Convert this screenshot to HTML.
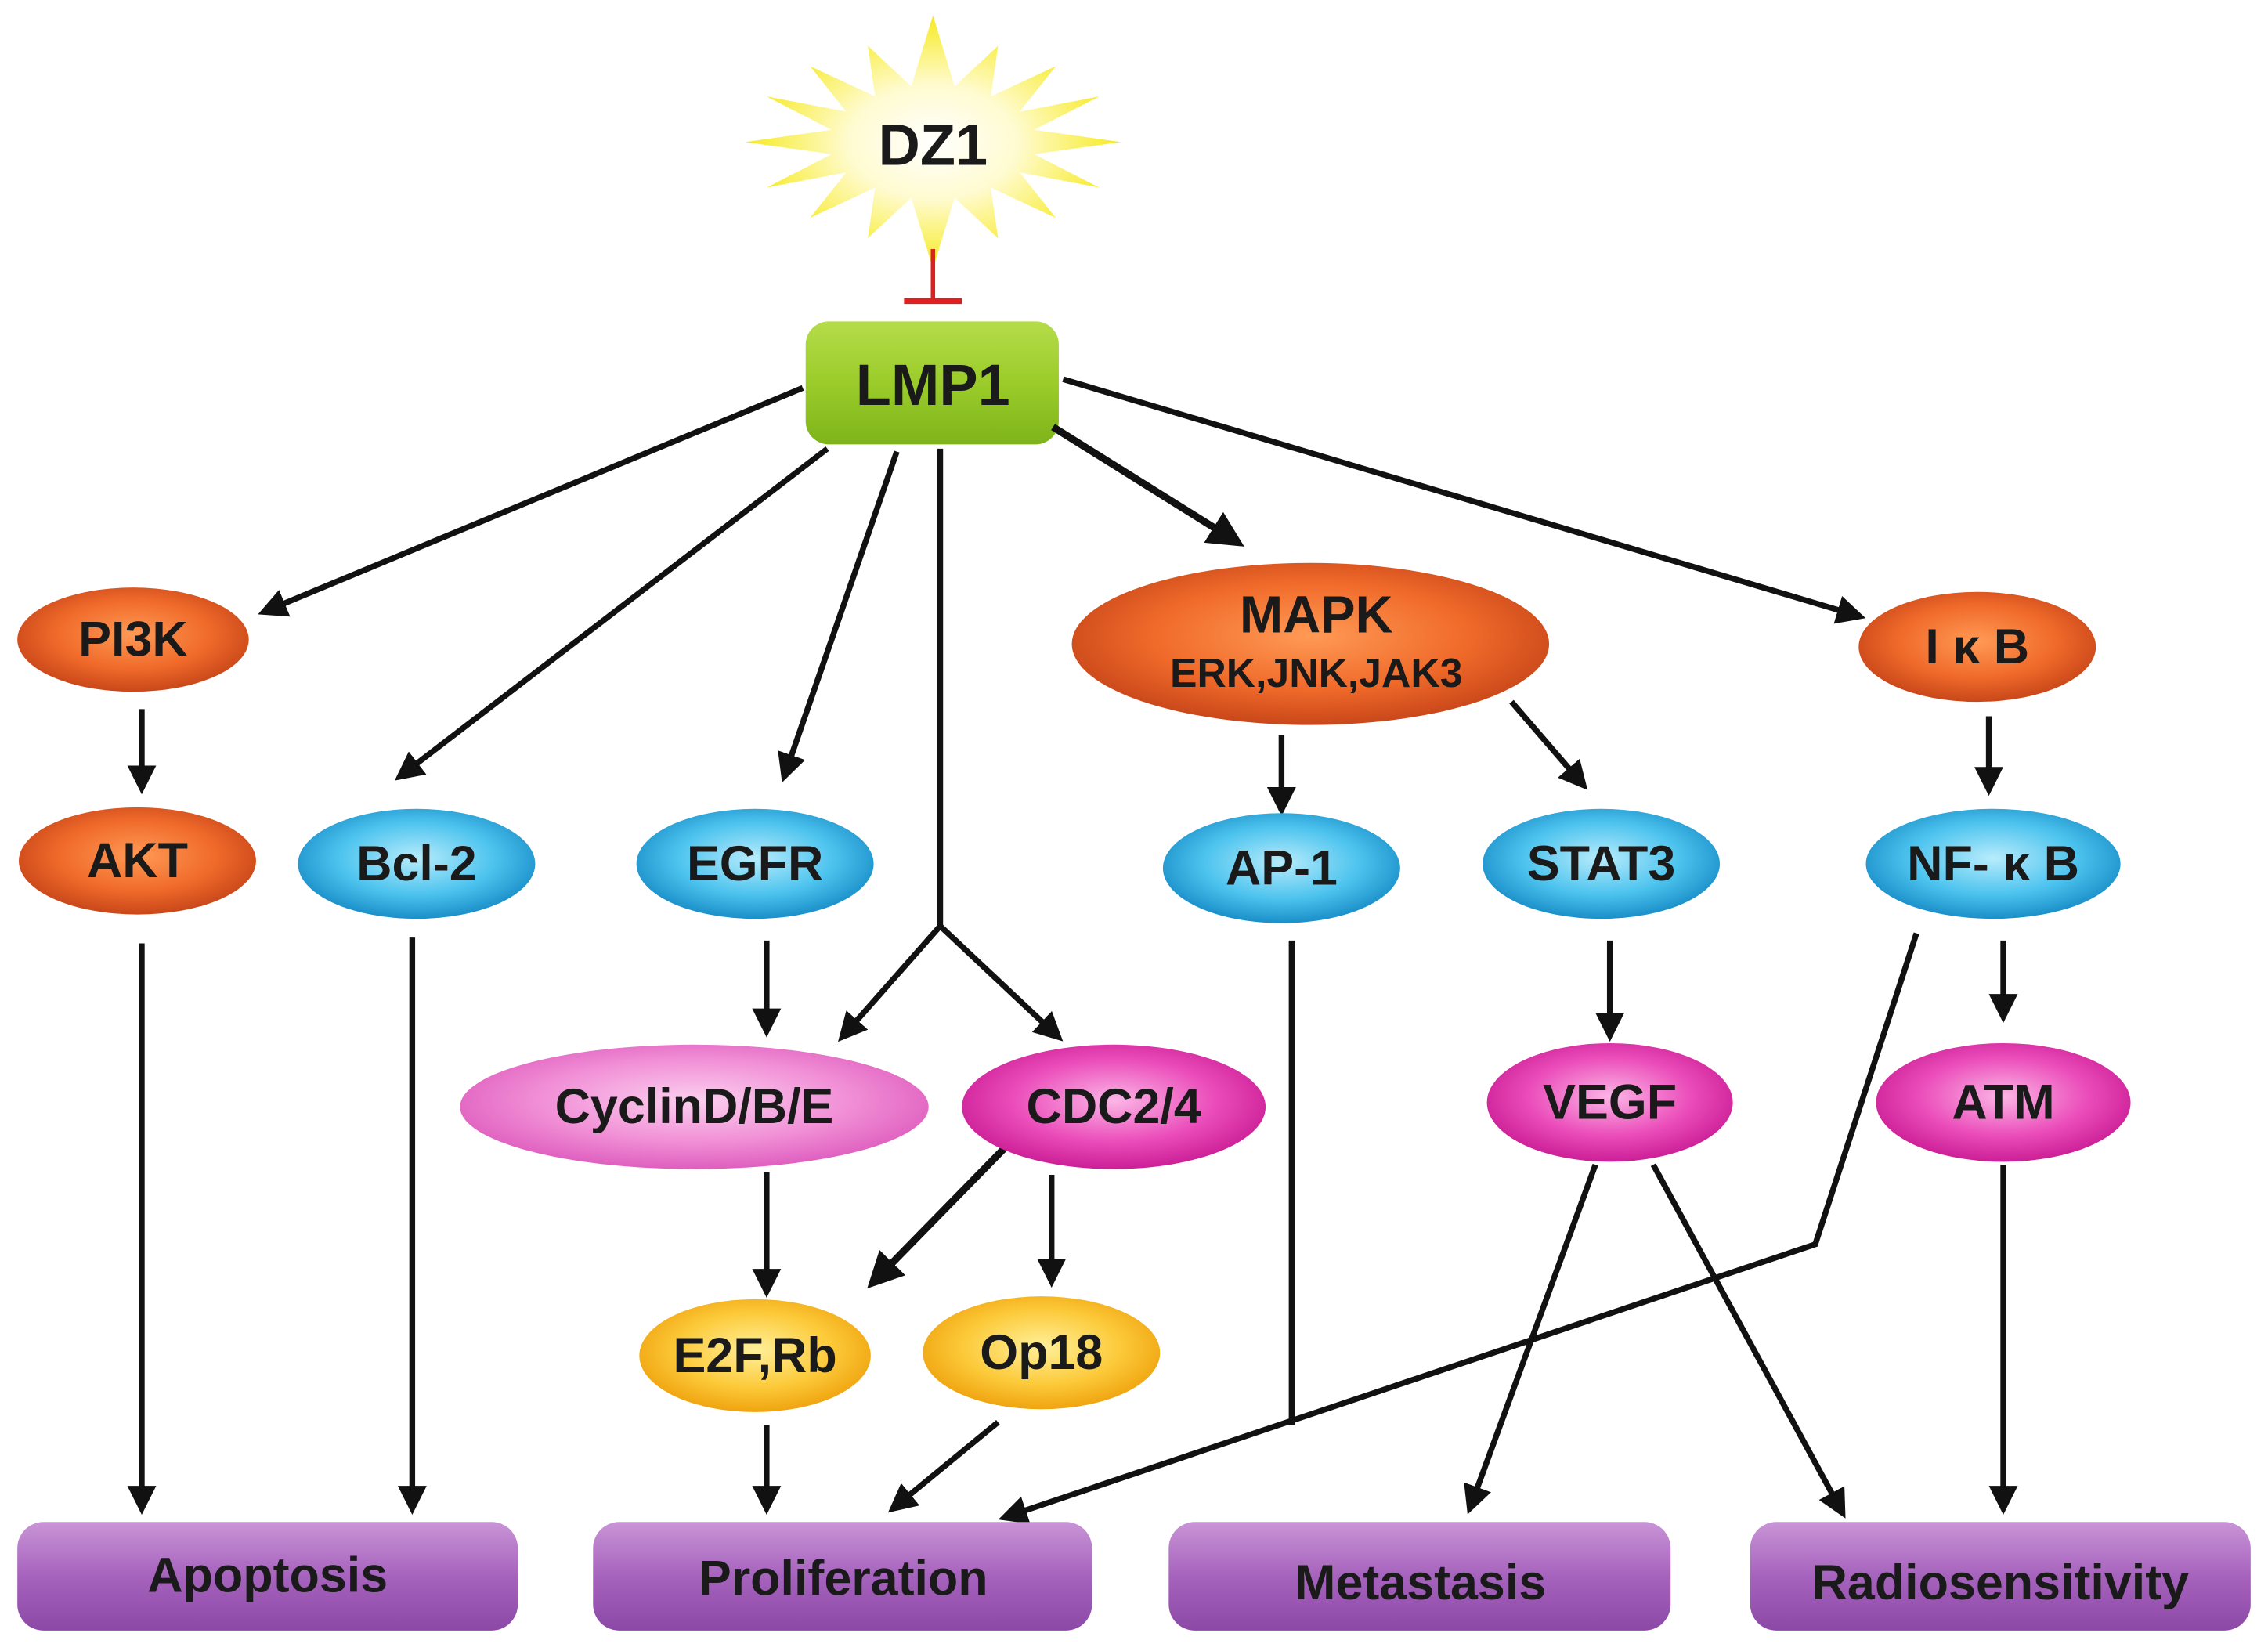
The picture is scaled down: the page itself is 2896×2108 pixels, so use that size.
<!DOCTYPE html>
<html><head><meta charset="utf-8"><style>
html,body{margin:0;padding:0;background:#fff;}
svg{display:block;}
text{font-family:"Liberation Sans",Arial,sans-serif;font-weight:bold;text-anchor:middle;dominant-baseline:central;fill:#1a1a1a;}
</style></head><body>
<svg width="2896" height="2108" viewBox="0 0 1568 1141" xmlns="http://www.w3.org/2000/svg">
<defs>
<radialGradient id="star" cx="50%" cy="50%" r="50%"><stop offset="0" stop-color="#ffffff"/><stop offset="0.45" stop-color="#fffbd0"/><stop offset="1" stop-color="#f6ea20"/></radialGradient>
<linearGradient id="green" x1="0" y1="0" x2="0" y2="1"><stop offset="0" stop-color="#b5dc4a"/><stop offset="0.5" stop-color="#9bcc2a"/><stop offset="1" stop-color="#7eb41a"/></linearGradient>
<radialGradient id="orange" cx="50%" cy="45%" r="55%"><stop offset="0" stop-color="#ff9a55"/><stop offset="0.6" stop-color="#f06a2a"/><stop offset="1" stop-color="#c9471a"/></radialGradient>
<radialGradient id="blue" cx="50%" cy="45%" r="55%"><stop offset="0" stop-color="#b8ecfc"/><stop offset="0.6" stop-color="#4cc3ee"/><stop offset="1" stop-color="#1a8fc9"/></radialGradient>
<radialGradient id="pink" cx="50%" cy="45%" r="55%"><stop offset="0" stop-color="#fbd0ef"/><stop offset="0.6" stop-color="#f18fd6"/><stop offset="1" stop-color="#df5fbf"/></radialGradient>
<radialGradient id="mag" cx="50%" cy="45%" r="55%"><stop offset="0" stop-color="#fbb6e6"/><stop offset="0.6" stop-color="#eb4dba"/><stop offset="1" stop-color="#cc1f97"/></radialGradient>
<radialGradient id="yel" cx="50%" cy="45%" r="55%"><stop offset="0" stop-color="#fff09a"/><stop offset="0.6" stop-color="#fcca3a"/><stop offset="1" stop-color="#f0a410"/></radialGradient>
<linearGradient id="purp" x1="0" y1="0" x2="0" y2="1"><stop offset="0" stop-color="#c994d6"/><stop offset="0.5" stop-color="#a663bd"/><stop offset="1" stop-color="#8c48a6"/></linearGradient>
<marker id="ah" markerWidth="5" markerHeight="5" refX="4" refY="2.5" orient="auto" markerUnits="strokeWidth"><path d="M0,0 L5,2.5 L0,5 Z" fill="#111"/></marker>
</defs>

<g transform="translate(645,98) scale(1,0.7) translate(-645,-100)">
<polygon fill="url(#star)" points="
645,-25 660,45 690,5 685,55 730,25 705,70 760,55 715,88 775,100 715,112 760,145 705,130 730,175 685,145 690,195 660,155 645,225 630,155 600,195 605,145 560,175 585,130 530,145 575,112 515,100 575,88 530,55 585,70 560,25 605,55 600,5 630,45"/>
</g>
<text x="645" y="100" font-size="40">DZ1</text>
<line x1="645" y1="172" x2="645" y2="207" stroke="#e02020" stroke-width="3"/>
<line x1="625" y1="208" x2="665" y2="208" stroke="#e02020" stroke-width="4"/>

<rect x="557" y="222" width="175" height="85" rx="16" fill="url(#green)"/>
<text x="645" y="266" font-size="40">LMP1</text>

<g stroke="#111" stroke-width="4" fill="none">
<line x1="555" y1="268" x2="182" y2="423" marker-end="url(#ah)"/>
<line x1="572" y1="310" x2="276" y2="537" marker-end="url(#ah)"/>
<line x1="620" y1="312" x2="542" y2="537" marker-end="url(#ah)"/>
<polyline points="650,310 650,640"/>
<line x1="650" y1="640" x2="582" y2="717" marker-end="url(#ah)"/>
<line x1="650" y1="640" x2="732" y2="717" marker-end="url(#ah)"/>
<line x1="728" y1="295" x2="856" y2="375" stroke-width="5" marker-end="url(#ah)"/>
<line x1="735" y1="262" x2="1286" y2="426" marker-end="url(#ah)"/>
<line x1="98" y1="490" x2="98" y2="545" marker-end="url(#ah)"/>
<line x1="98" y1="652" x2="98" y2="1043" marker-end="url(#ah)"/>
<line x1="285" y1="648" x2="285" y2="1043" marker-end="url(#ah)"/>
<line x1="530" y1="650" x2="530" y2="713" marker-end="url(#ah)"/>
<line x1="886" y1="508" x2="886" y2="560" marker-end="url(#ah)"/>
<line x1="1045" y1="485" x2="1095" y2="543" marker-end="url(#ah)"/>
<line x1="1375" y1="495" x2="1375" y2="546" marker-end="url(#ah)"/>
<line x1="1385" y1="650" x2="1385" y2="703" marker-end="url(#ah)"/>
<line x1="1113" y1="650" x2="1113" y2="716" marker-end="url(#ah)"/>
<line x1="530" y1="810" x2="530" y2="893" marker-end="url(#ah)"/>
<line x1="695" y1="793" x2="603" y2="887" stroke-width="5" marker-end="url(#ah)"/>
<line x1="727" y1="812" x2="727" y2="886" marker-end="url(#ah)"/>
<line x1="530" y1="985" x2="530" y2="1043" marker-end="url(#ah)"/>
<line x1="690" y1="983" x2="617" y2="1043" marker-end="url(#ah)"/>
<line x1="893" y1="650" x2="893" y2="985"/>
<polyline points="1325,645 1255,860 694,1049" marker-end="url(#ah)"/>
<line x1="1103" y1="805" x2="1016" y2="1043" marker-end="url(#ah)"/>
<line x1="1143" y1="805" x2="1274" y2="1046" marker-end="url(#ah)"/>
<line x1="1385" y1="805" x2="1385" y2="1043" marker-end="url(#ah)"/>
</g>

<ellipse cx="92" cy="442" rx="80" ry="36" fill="url(#orange)"/><text x="92" y="442" font-size="34">PI3K</text>
<ellipse cx="95" cy="595" rx="82" ry="37" fill="url(#orange)"/><text x="95" y="595" font-size="34">AKT</text>
<ellipse cx="288" cy="597" rx="82" ry="38" fill="url(#blue)"/><text x="288" y="597" font-size="34">Bcl-2</text>
<ellipse cx="522" cy="597" rx="82" ry="38" fill="url(#blue)"/><text x="522" y="597" font-size="34">EGFR</text>
<ellipse cx="906" cy="445" rx="165" ry="56" fill="url(#orange)"/>
<text x="910" y="425" font-size="36">MAPK</text><text x="910" y="465" font-size="28">ERK,JNK,JAK3</text>
<ellipse cx="1367" cy="447" rx="82" ry="38" fill="url(#orange)"/><text x="1367" y="447" font-size="34">I κ B</text>
<ellipse cx="886" cy="600" rx="82" ry="38" fill="url(#blue)"/><text x="886" y="600" font-size="34">AP-1</text>
<ellipse cx="1107" cy="597" rx="82" ry="38" fill="url(#blue)"/><text x="1107" y="597" font-size="34">STAT3</text>
<ellipse cx="1378" cy="597" rx="88" ry="38" fill="url(#blue)"/><text x="1378" y="597" font-size="34">NF- κ B</text>
<ellipse cx="480" cy="765" rx="162" ry="43" fill="url(#pink)"/><text x="480" y="765" font-size="34">CyclinD/B/E</text>
<ellipse cx="770" cy="765" rx="105" ry="43" fill="url(#mag)"/><text x="770" y="765" font-size="34">CDC2/4</text>
<ellipse cx="1113" cy="762" rx="85" ry="41" fill="url(#mag)"/><text x="1113" y="762" font-size="34">VEGF</text>
<ellipse cx="1385" cy="762" rx="88" ry="41" fill="url(#mag)"/><text x="1385" y="762" font-size="34">ATM</text>
<ellipse cx="522" cy="937" rx="80" ry="39" fill="url(#yel)"/><text x="522" y="937" font-size="34">E2F,Rb</text>
<ellipse cx="720" cy="935" rx="82" ry="39" fill="url(#yel)"/><text x="720" y="935" font-size="34">Op18</text>

<rect x="12" y="1052" width="346" height="75" rx="18" fill="url(#purp)"/><text x="185" y="1089" font-size="34">Apoptosis</text>
<rect x="410" y="1052" width="345" height="75" rx="18" fill="url(#purp)"/><text x="583" y="1091" font-size="34">Proliferation</text>
<rect x="808" y="1052" width="347" height="75" rx="18" fill="url(#purp)"/><text x="982" y="1094" font-size="34">Metastasis</text>
<rect x="1210" y="1052" width="346" height="75" rx="18" fill="url(#purp)"/><text x="1383" y="1094" font-size="34">Radiosensitivity</text>
</svg>
</body></html>
